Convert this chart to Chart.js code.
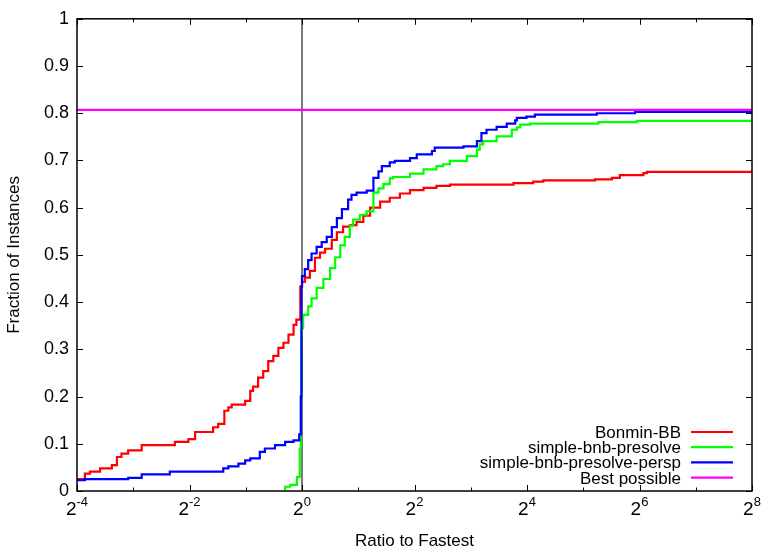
<!DOCTYPE html>
<html>
<head>
<meta charset="utf-8">
<title>Performance profile</title>
<script src="https://cdn.jsdelivr.net/npm/chart.js@4/dist/chart.umd.min.js"></script>
<style>
  html, body { margin: 0; padding: 0; background: #fff; }
  canvas { display: block; }
</style>
</head>
<body>
<canvas id="profile" width="762" height="552"></canvas>
<script>
// Performance profile: cumulative fraction of instances solved within a
// given ratio of the fastest solver. x values are stored as log2(ratio).

const seriesNames = ['Bonmin-BB', 'simple-bnb-presolve', 'simple-bnb-presolve-persp', 'Best possible'];
const seriesColors = ['#ff0000', '#00ff00', '#0000ff', '#ff00ff'];

const bonminLog2 = [-4, -3.86, -3.77, -3.59, -3.38, -3.29, -3.21, -3.09, -2.85, -2.26,
  -2.02, -1.90, -1.58, -1.49, -1.38, -1.31, -1.25, -1.01, -0.92, -0.87,
  -0.78, -0.69, -0.60, -0.51, -0.42, -0.33, -0.24, -0.15, -0.10, -0.03,
  0, 0.05, 0.14, 0.23, 0.32, 0.41, 0.53, 0.62, 0.73, 0.85,
  0.97, 1.09, 1.21, 1.39, 1.56, 1.74, 1.92, 2.16, 2.39, 2.63,
  3.76, 4.11, 4.29, 5.21, 5.51, 5.65, 6.07, 6.13, 7.40, 8];
const bonminFrac = [0.021, 0.025, 0.037, 0.041, 0.048, 0.055, 0.072, 0.079, 0.086, 0.097,
  0.104, 0.110, 0.125, 0.135, 0.142, 0.170, 0.177, 0.183, 0.191, 0.212,
  0.221, 0.240, 0.254, 0.275, 0.286, 0.303, 0.314, 0.331, 0.352, 0.363,
  0.433, 0.443, 0.452, 0.466, 0.494, 0.505, 0.513, 0.532, 0.548, 0.560,
  0.563, 0.570, 0.583, 0.600, 0.613, 0.621, 0.630, 0.637, 0.642, 0.646,
  0.649, 0.652, 0.655, 0.658, 0.660, 0.663, 0.669, 0.673, 0.676, 0.676];

const presolveLog2 = [-0.30, -0.21, -0.09, -0.04, -0.02, -0.01, 0, 0.02, 0.11, 0.17,
  0.26, 0.38, 0.50, 0.59, 0.68, 0.76, 0.85, 0.91, 1.03, 1.15,
  1.27, 1.36, 1.45, 1.56, 1.62, 1.92, 2.16, 2.39, 2.51, 2.63,
  2.93, 3.11, 3.16, 3.22, 3.46, 3.73, 3.82, 3.88, 4.05, 5.27,
  5.95, 6.39, 8];
const presolveFrac = [0.002, 0.009, 0.013, 0.030, 0.090, 0.200, 0.338, 0.345, 0.373, 0.391,
  0.408, 0.430, 0.449, 0.472, 0.495, 0.520, 0.538, 0.562, 0.575, 0.585,
  0.592, 0.632, 0.641, 0.650, 0.662, 0.665, 0.672, 0.681, 0.688, 0.692,
  0.699, 0.709, 0.723, 0.734, 0.741, 0.751, 0.765, 0.770, 0.776, 0.778,
  0.781, 0.784, 0.784];

const perspLog2 = [-4, -3.86, -3.09, -2.85, -2.35, -1.40, -1.31, -1.13, -1.01, -0.92,
  -0.75, -0.66, -0.48, -0.30, -0.15, -0.05, -0.02, -0.01, 0, 0.05,
  0.11, 0.17, 0.26, 0.35, 0.44, 0.53, 0.62, 0.71, 0.82, 0.88,
  0.97, 1.15, 1.27, 1.36, 1.42, 1.56, 1.65, 1.92, 2.04, 2.31,
  2.36, 2.87, 3.11, 3.19, 3.28, 3.46, 3.64, 3.79, 3.82, 3.99,
  4.14, 5.24, 5.92, 6.39, 8];
const perspFrac = [0.020, 0.023, 0.025, 0.028, 0.035, 0.041, 0.048, 0.052, 0.058, 0.065,
  0.069, 0.083, 0.090, 0.097, 0.104, 0.107, 0.120, 0.200, 0.433, 0.455,
  0.470, 0.489, 0.503, 0.517, 0.527, 0.538, 0.559, 0.578, 0.597, 0.617,
  0.627, 0.632, 0.636, 0.663, 0.677, 0.688, 0.696, 0.699, 0.705, 0.713,
  0.720, 0.727, 0.730, 0.741, 0.758, 0.765, 0.771, 0.778, 0.785, 0.790,
  0.793, 0.797, 0.800, 0.803, 0.803];

const bestPossibleLog2 = [-4, 8];
const bestPossibleFrac = [0.807, 0.807];

// reference line at ratio 1
const unitRatioLog2 = [0, 0];
const unitRatioFrac = [0, 1];

const xTickExponents = [-4, -3, -2, -1, 0, 1, 2, 3, 4, 5, 6, 7, 8];
const xLabelExponents = [-4, -2, 0, 2, 4, 6, 8];
const yTickValues = [0, 0.1, 0.2, 0.3, 0.4, 0.5, 0.6, 0.7, 0.8, 0.9, 1];

const FONT = '"Liberation Sans", Arial, Helvetica, sans-serif';

function toPoints(log2s, fracs) {
  return log2s.map((e, i) => ({ x: Math.pow(2, e), y: fracs[i] }));
}

function lineSet(label, log2s, fracs, color, order) {
  return {
    label: label,
    data: toPoints(log2s, fracs),
    borderColor: color,
    backgroundColor: color,
    borderWidth: 2.2,
    pointRadius: 0,
    fill: false,
    stepped: 'after',
    order: order
  };
}

// frame with inward ticks on all sides, power-of-two tick labels, legend
const framePlugin = {
  id: 'gnuFrame',
  afterDraw(chart) {
    const ctx = chart.ctx;
    const a = chart.chartArea;
    const xs = chart.scales.x;
    const ys = chart.scales.y;
    ctx.save();
    ctx.strokeStyle = '#000';
    ctx.lineWidth = 1.5;
    ctx.strokeRect(a.left, a.top, a.right - a.left, a.bottom - a.top);

    ctx.lineWidth = 1;
    ctx.beginPath();
    yTickValues.forEach(v => {
      const y = Math.round(ys.getPixelForValue(v)) + 0.5;
      ctx.moveTo(a.left, y); ctx.lineTo(a.left + 6, y);
      ctx.moveTo(a.right, y); ctx.lineTo(a.right - 6, y);
    });
    xTickExponents.forEach(k => {
      const x = Math.round(xs.getPixelForValue(Math.pow(2, k))) + 0.5;
      const len = (k % 2 === 0) ? 6 : 3.5;
      ctx.moveTo(x, a.bottom); ctx.lineTo(x, a.bottom - len);
      ctx.moveTo(x, a.top); ctx.lineTo(x, a.top + len);
    });
    ctx.stroke();

    // x tick labels: 2 with a raised exponent
    ctx.fillStyle = '#000';
    ctx.textBaseline = 'alphabetic';
    ctx.textAlign = 'left';
    xLabelExponents.forEach(k => {
      const x = xs.getPixelForValue(Math.pow(2, k));
      const exp = String(k);
      ctx.font = '19px ' + FONT;
      const wb = ctx.measureText('2').width;
      ctx.font = '13px ' + FONT;
      const we = ctx.measureText(exp).width;
      const x0 = x - (wb + we) / 2;
      ctx.font = '19px ' + FONT;
      ctx.fillText('2', x0, a.bottom + 24);
      ctx.font = '13px ' + FONT;
      ctx.fillText(exp, x0 + wb, a.bottom + 15);
    });

    // legend: right-aligned labels with line samples
    const textRight = 681, sx0 = 691, sx1 = 733, rowTop = 432, rowStep = 15.2;
    ctx.font = '17px ' + FONT;
    ctx.textAlign = 'right';
    const entries = chart.data.datasets.filter(d => seriesNames.includes(d.label));
    entries.sort((p, q) => seriesNames.indexOf(p.label) - seriesNames.indexOf(q.label));
    entries.forEach((d, i) => {
      const y = rowTop + i * rowStep;
      ctx.fillStyle = '#000';
      ctx.fillText(d.label, textRight, y + 6);
      ctx.strokeStyle = d.borderColor;
      ctx.lineWidth = 2.2;
      ctx.beginPath();
      ctx.moveTo(sx0, y); ctx.lineTo(sx1, y);
      ctx.stroke();
    });
    ctx.restore();
  }
};

new Chart(document.getElementById('profile'), {
  type: 'line',
  data: {
    datasets: [
      {
        label: 'ratio = 1',
        data: toPoints(unitRatioLog2, unitRatioFrac),
        borderColor: '#222',
        borderWidth: 1.2,
        pointRadius: 0,
        fill: false,
        order: 9
      },
      lineSet(seriesNames[0], bonminLog2, bonminFrac, seriesColors[0], 4),
      lineSet(seriesNames[1], presolveLog2, presolveFrac, seriesColors[1], 3),
      lineSet(seriesNames[2], perspLog2, perspFrac, seriesColors[2], 2),
      lineSet(seriesNames[3], bestPossibleLog2, bestPossibleFrac, seriesColors[3], 1)
    ]
  },
  options: {
    responsive: false,
    animation: false,
    layout: { padding: { top: 15, right: 10, left: 0, bottom: 0 } },
    plugins: {
      legend: { display: false },
      tooltip: { enabled: false }
    },
    scales: {
      x: {
        type: 'logarithmic',
        min: Math.pow(2, -4),
        max: Math.pow(2, 8),
        grid: { display: false, drawTicks: false },
        border: { display: false },
        ticks: { display: false },
        title: {
          display: true,
          text: 'Ratio to Fastest',
          color: '#000',
          font: { family: FONT, size: 17 },
          padding: { top: 0, bottom: 0 }
        },
        afterFit(scale) { scale.height = 61; }
      },
      y: {
        type: 'linear',
        min: 0,
        max: 1,
        grid: { display: false, drawTicks: false },
        border: { display: false },
        afterBuildTicks(scale) {
          scale.ticks = yTickValues.map(v => ({ value: v }));
        },
        ticks: {
          color: '#000',
          font: { family: FONT, size: 18 },
          padding: 8,
          callback: v => String(Math.round(v * 10) / 10)
        },
        title: {
          display: true,
          text: 'Fraction of Instances',
          color: '#000',
          font: { family: FONT, size: 17 },
          padding: { top: 4, bottom: 0 }
        },
        afterFit(scale) { scale.width = 77; }
      }
    }
  },
  plugins: [framePlugin]
});
</script>
</body>
</html>
